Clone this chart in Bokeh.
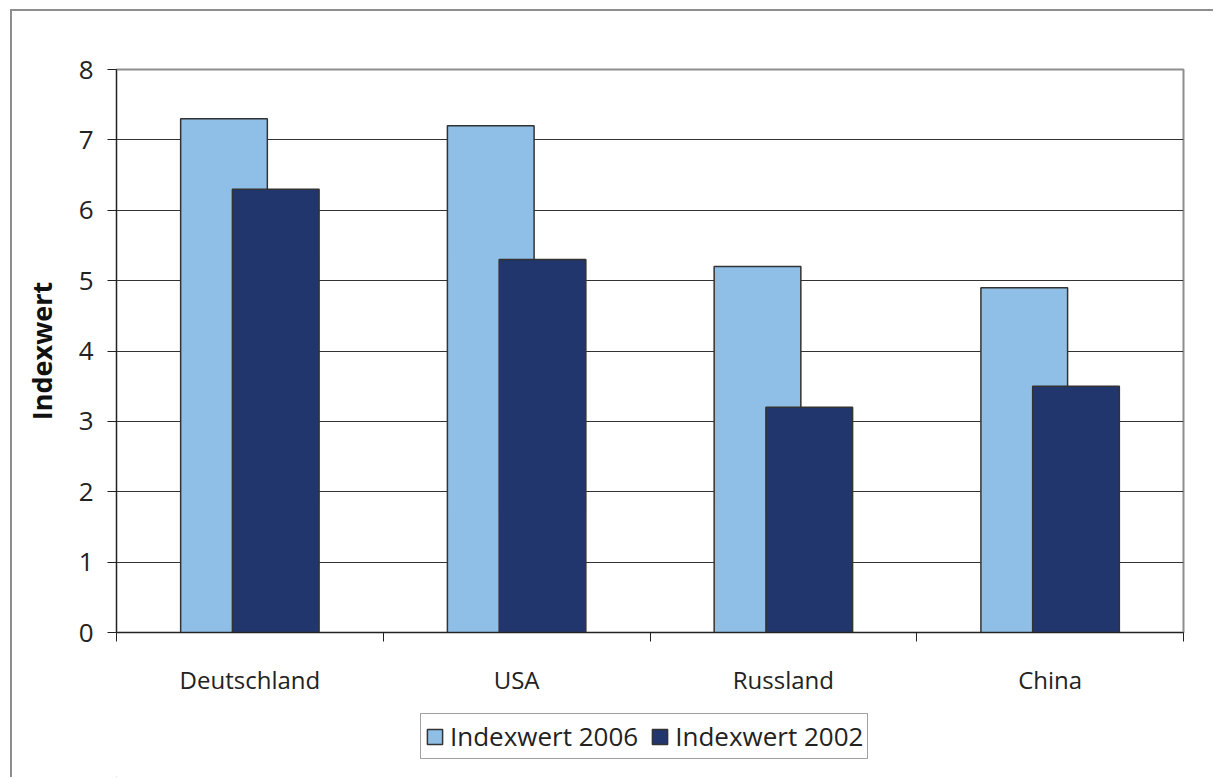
from bokeh.plotting import figure
from bokeh.layouts import column
from bokeh.models import ColumnDataSource, FixedTicker, Legend, LegendItem
from bokeh.embed import file_html
from bokeh.resources import INLINE

categories = ["Deutschland", "USA", "Russland", "China"]
values_2006 = [7.3, 7.2, 5.2, 4.9]
values_2002 = [6.3, 5.3, 3.2, 3.5]
y_ticks = [0, 1, 2, 3, 4, 5, 6, 7, 8]
series_names = ["Indexwert 2006", "Indexwert 2002"]
y_title = "Indexwert"

FONT = "Open Sans"
LIGHT = "#8FBFE7"
DARK = "#21366D"
EDGE = "#333333"

centers = [i + 0.5 for i in range(len(categories))]
src = ColumnDataSource(dict(
    x06=[c - 0.097 for c in centers],
    x02=[c + 0.097 for c in centers],
    v06=values_2006,
    v02=values_2002,
))

p = figure(width=1201, height=700, x_range=(0, 4), y_range=(0, 8),
           output_backend="svg", toolbar_location=None, tools="",
           min_border_left=104, min_border_top=58, min_border_right=30,
           min_border_bottom=79)

p.outline_line_color = "#8E8E8E"
p.outline_line_width = 2
p.background_fill_color = "white"
p.border_fill_color = "white"

p.vbar(x="x06", top="v06", width=0.325, source=src, fill_color=LIGHT,
       line_color=EDGE, line_width=1.5)
p.vbar(x="x02", top="v02", width=0.325, source=src, fill_color=DARK,
       line_color=EDGE, line_width=1.5)

# y axis
p.yaxis.ticker = FixedTicker(ticks=y_ticks)
p.yaxis.axis_line_color = "#222222"
p.yaxis.major_tick_line_color = "#222222"
p.yaxis.major_tick_out = 9
p.yaxis.major_tick_in = 0
p.yaxis.minor_tick_line_color = None
p.yaxis.major_label_standoff = 14
p.yaxis.major_label_text_font = FONT
p.yaxis.major_label_text_font_size = "26px"
p.yaxis.major_label_text_color = "#222222"
p.yaxis.axis_label = y_title
p.yaxis.axis_label_text_font = FONT
p.yaxis.axis_label_text_font_style = "bold"
p.yaxis.axis_label_text_font_size = "27px"
p.yaxis.axis_label_text_color = "#111111"
p.yaxis.axis_label_standoff = 16

# x axis: labels at centers, ticks at category boundaries
p.xaxis.ticker = FixedTicker(ticks=centers, minor_ticks=[0, 1, 2, 3, 4])
p.xaxis.major_label_overrides = {c: cat for c, cat in zip(centers, categories)}
p.xaxis.major_tick_out = 0
p.xaxis.major_tick_in = 0
p.xaxis.minor_tick_out = 9
p.xaxis.minor_tick_in = 0
p.xaxis.minor_tick_line_color = "#222222"
p.xaxis.axis_line_color = "#222222"
p.xaxis.major_label_standoff = 21
p.xaxis.major_label_text_font = FONT
p.xaxis.major_label_text_font_size = "24px"
p.xaxis.major_label_text_color = "#222222"

p.xgrid.grid_line_color = None
p.ygrid.ticker = FixedTicker(ticks=y_ticks)
p.ygrid.grid_line_color = "#333333"
p.ygrid.grid_line_width = 1.2

# legend strip below the chart (its frame is aligned with the chart frame)
q = figure(width=1201, height=66, x_range=(0, 1), y_range=(0, 1),
           output_backend="svg", toolbar_location=None, tools="",
           x_axis_location=None, y_axis_location=None, min_border=0)
q.outline_line_color = None
q.xgrid.grid_line_color = None
q.ygrid.grid_line_color = None
q.background_fill_color = "white"
q.border_fill_color = "white"
# off-screen swatch renderers, only used to draw the legend keys
swatch = ColumnDataSource(dict(x=[-5], top=[-5]))
k06 = q.vbar(x="x", top="top", width=0.1, source=swatch, fill_color=LIGHT,
             line_color=EDGE, line_width=1.5)
k02 = q.vbar(x="x", top="top", width=0.1, source=swatch, fill_color=DARK,
             line_color=EDGE, line_width=1.5)

legend = Legend(items=[LegendItem(label=series_names[0], renderers=[k06]),
                       LegendItem(label=series_names[1], renderers=[k02])],
                orientation="horizontal", location=(304, 18),
                glyph_width=19, glyph_height=19, label_standoff=6, spacing=12,
                padding=4, margin=0,
                label_text_font=FONT, label_text_font_size="26px",
                label_text_color="#222222",
                border_line_color="#444444", border_line_width=1.5,
                background_fill_color="white", background_fill_alpha=1)
q.add_layout(legend, "center")

layout = column(p, q, spacing=0,
                styles={"border-top": "2px solid #8E8E8E",
                        "border-left": "2px solid #8E8E8E",
                        "margin-left": "10px", "margin-top": "9px"})

open("out.html", "w").write(file_html(layout, INLINE))
